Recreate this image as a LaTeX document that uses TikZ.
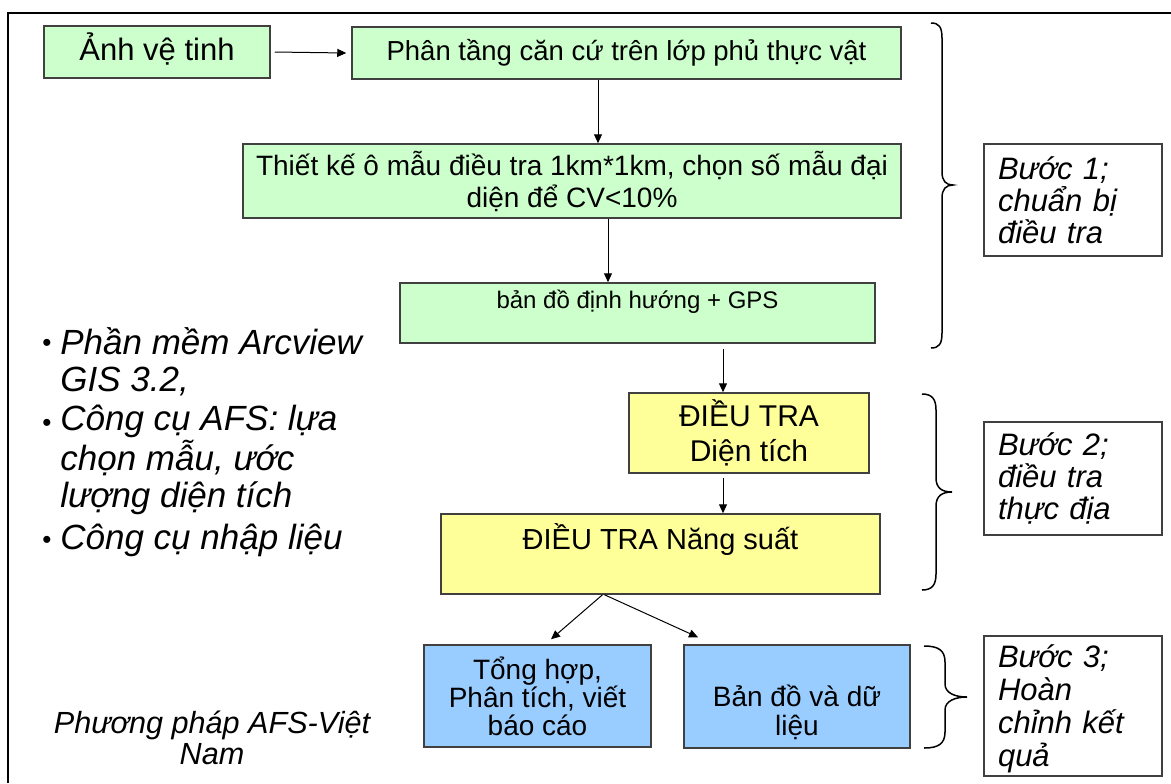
\documentclass[tikz,border=0pt]{standalone}
\usepackage{fontspec}
\setmainfont{Liberation Sans}
\usetikzlibrary{arrows.meta,calc}
\definecolor{boxline}{RGB}{64,64,64}
\definecolor{boxgreen}{RGB}{204,255,204}
\definecolor{boxyellow}{RGB}{255,255,153}
\definecolor{boxblue}{RGB}{153,204,255}
\begin{document}
\begin{tikzpicture}[x=0.5pt,y=-0.5pt,
  box/.style={draw=boxline, line width=0.75pt, inner sep=0pt, align=center},
  gbox/.style={box, fill=boxgreen},
  ybox/.style={box, fill=boxyellow},
  bbox/.style={box, fill=boxblue},
  stepnote/.style={draw=boxline, line width=0.6pt, fill=white, align=left, text width=75pt, inner xsep=7pt, inner ysep=0pt, font=\fontsize{15.5}{16}\selectfont\itshape},
  steptext/.style={inner sep=0pt, align=left, text width=75pt, font=\fontsize{15.5}{16.5}\selectfont\itshape},
  arr/.style={-{Triangle[length=4.5pt,width=4pt]}, line width=0.5pt, black},
  brace/.style={line width=0.75pt, black},
  bul/.style={inner sep=0pt, font=\fontsize{13}{14}\selectfont},
  lbl/.style={inner sep=0pt, align=center}]

\useasboundingbox (0,0) rectangle (1171,783);
\fill[white] (0,0) rectangle (1171,783);
\draw[line width=1.2pt] (8,783) -- (8,13) -- (1171,13);

% flow boxes
\node[gbox, minimum width=113pt, minimum height=26pt] (anh) at (157,52) {};
\node[lbl, font=\fontsize{15.5}{18}\selectfont] (anht) at (157,49) {Ảnh vệ tinh};
\node[gbox, minimum width=274.5pt, minimum height=26pt, font=\fontsize{13.75}{16}\selectfont] (phan) at (626.5,53) {Phân tầng căn cứ trên lớp phủ thực vật};
\node[gbox, minimum width=329pt, minimum height=37pt, font=\fontsize{14}{16}\selectfont] (thiet) at (572,181) {Thiết kế ô mẫu điều tra 1km*1km, chọn số mẫu đại\\diện để CV<10\%};
\node[gbox, minimum width=237.5pt, minimum height=30pt] (bando) at (637.5,313) {};
\node[lbl, font=\fontsize{12}{14}\selectfont] (bandot) at (637.5,302) {bản đồ định hướng + GPS};
\node[ybox, minimum width=120pt, minimum height=40pt, font=\fontsize{15}{17.5}\selectfont] (dien) at (749,433) {ĐIỀU TRA\\Diện tích};
\node[ybox, minimum width=219.5pt, minimum height=40pt] (nang) at (660.5,554) {};
\node[lbl, font=\fontsize{14.5}{17}\selectfont] (nangt) at (660.5,540) {ĐIỀU TRA Năng suất};
\node[bbox, minimum width=113.5pt, minimum height=51pt, font=\fontsize{14}{14}\selectfont] (tong) at (537.5,696) {Tổng hợp,\\Phân tích, viết\\báo cáo};
\node[bbox, minimum width=113pt, minimum height=51.5pt] (bdvdl) at (797,696.5) {};
\node[lbl, font=\fontsize{14}{14.5}\selectfont] (bdvdlt) at (797,712) {Bản đồ và dữ\\liệu};

% step notes
\node[stepnote, minimum height=56pt] (b1) at (1073,200) {Bước 1;\\chuẩn bị\\điều tra};
\node[stepnote, minimum height=56.5pt] (b2) at (1073,478.5) {Bước 2;\\điều tra\\thực địa};
\node[stepnote, minimum height=70pt] (b3) at (1073,706) {};
\node[steptext] (b3t) at (1073,709) {Bước 3;\\Hoàn\\chỉnh kết\\quả};

% left texts
\node[bul] (bu1) at (47,345) {•};
\node[bul] (bu2) at (47,425) {•};
\node[bul] (bu3) at (47,542) {•};
\node[lbl, align=left, anchor=west, font=\fontsize{17.5}{18.5}\selectfont\itshape] (it1) at (60,361.5) {Phần mềm Arcview\\GIS 3.2,};
\node[lbl, align=left, anchor=west, font=\fontsize{17.5}{18.5}\selectfont\itshape] (it2) at (60,460) {Công cụ AFS: lựa\\chọn mẫu, ước\\lượng diện tích};
\node[lbl, align=left, anchor=west, font=\fontsize{17.5}{18.5}\selectfont\itshape] (it3) at (60,540) {Công cụ nhập liệu};
\node[lbl, font=\fontsize{15.3}{15.5}\selectfont\itshape] (pp) at (212,737.5) {Phương pháp AFS-Việt\\Nam};

% arrows
\draw[arr] ($(anh.east)+(4,0)$) -- ($(phan.west)+(-5,0)$);
\draw[arr] ($(phan.south)+(-28.5,0)$) -- ($(thiet.north)+(26,0)$);
\draw[arr] ($(thiet.south)+(36,0)$) -- ($(bando.north)+(-29.5,0)$);
\draw[arr] ($(bando.south)+(85.5,5)$) -- ($(dien.north)+(-26,0)$);
\draw[arr] ($(dien.south)+(-26,4)$) -- ($(nang.north)+(62.5,0)$);
\draw[arr] ($(nang.south)+(-58,0)$) -- ($(tong.north)+(13.5,-5)$);
\draw[arr] ($(nang.south)+(-56,0)$) -- ($(bdvdl.north)+(-99,-7)$);

% braces
\draw[brace] (931,23) .. controls (939,23) and (942,27) .. (942,38) -- (942,172) .. controls (942,181) and (946,185) .. (953,185) .. controls (946,185) and (942,189) .. (942,198) -- (942,333) .. controls (942,344) and (939,348) .. (931,348);
\draw[brace] (922,394) .. controls (932,394) and (936,399) .. (936,410) -- (936,478) .. controls (936,488) and (942,492) .. (952,492) .. controls (942,492) and (936,496) .. (936,506) -- (936,574) .. controls (936,585) and (932,590) .. (922,590);
\draw[brace] (924,646) .. controls (938,646) and (945,650) .. (945,662) -- (945,684) .. controls (945,693) and (955,697) .. (967,697) .. controls (955,697) and (945,701) .. (945,710) -- (945,732) .. controls (945,744) and (938,748) .. (924,748);
\end{tikzpicture}
\end{document}
